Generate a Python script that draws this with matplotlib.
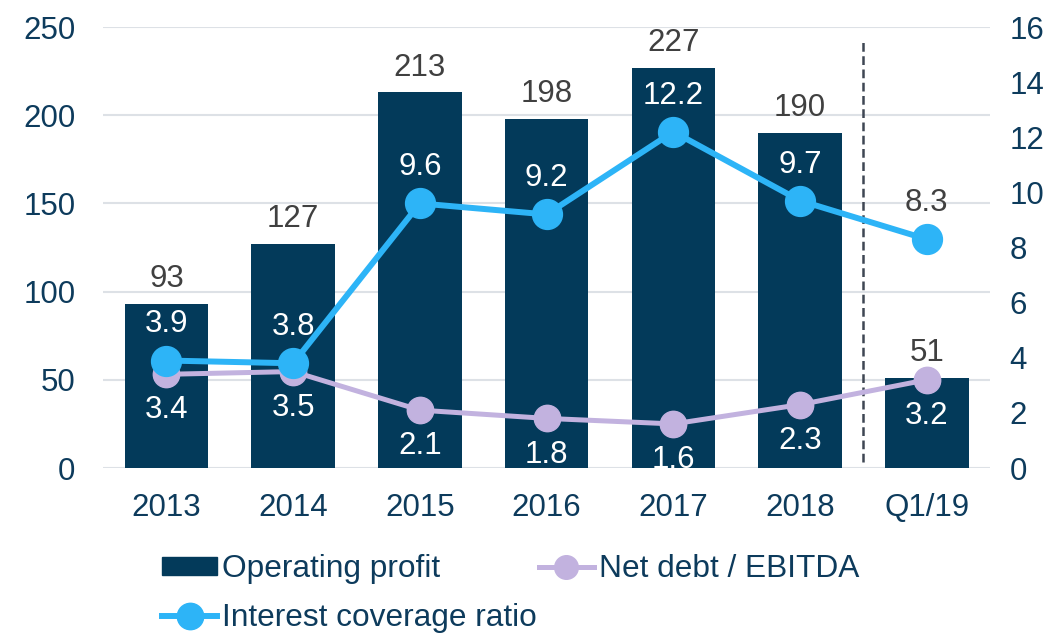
import matplotlib
matplotlib.use("Agg")
import matplotlib.pyplot as plt
from matplotlib.patches import Patch
from matplotlib.lines import Line2D

plt.rcParams['font.family'] = ['Liberation Sans', 'DejaVu Sans']

categories = ["2013", "2014", "2015", "2016", "2017", "2018", "Q1/19"]
operating_profit = [93, 127, 213, 198, 227, 190, 51]
interest_coverage = [3.9, 3.8, 9.6, 9.2, 12.2, 9.7, 8.3]
net_debt_ebitda = [3.4, 3.5, 2.1, 1.8, 1.6, 2.3, 3.2]

navy = "#033a5a"
sky = "#2db4f7"
lilac = "#c2b2df"
txt = "#0d3b5c"
grey = "#404040"
fs = 22.5

fig = plt.figure(figsize=(10.59, 6.34), dpi=100)
ax = fig.add_axes([0.0973, 0.2618, 0.935 - 0.0973, 0.9574 - 0.2618])
ax2 = ax.twinx()

x = list(range(len(categories)))
ax.bar(x, operating_profit, width=0.66, color=navy, zorder=2)
ax.set_ylim(0, 250)
ax.set_xlim(-0.5, len(categories) - 0.5)
ax.set_yticks(range(0, 251, 50))
ax.yaxis.grid(True, color="#dde1e6", linewidth=1.5)
ax.set_axisbelow(True)
ax.set_xticks(x)
ax.set_xticklabels(categories)

# dashed separator between annual and quarterly data
ax.vlines(5.5, 3.4, 241.5, colors="#3e4653", linestyles=(0, (3.5, 1.8)), linewidth=1.8, zorder=3)

for xi, v in zip(x, operating_profit):
    ax.annotate(str(v), (xi, v), xytext=(0, 7), textcoords="offset points",
                ha="center", va="bottom", fontsize=fs, color=grey)

ax2.set_ylim(0, 16)
ax2.set_yticks(range(0, 17, 2))
ax2.plot(x, net_debt_ebitda, color=lilac, linewidth=3.6, marker="o", markersize=19, zorder=3)
ax2.plot(x, interest_coverage, color=sky, linewidth=4.3, marker="o", markersize=21.5, zorder=4)

for xi, v, b in zip(x, interest_coverage, operating_profit):
    inside = v / 16 * 250 < b
    ax2.annotate(f"{v:.1f}", (xi, v), xytext=(0, 26), textcoords="offset points",
                 ha="center", va="center", fontsize=fs, color="white" if inside else grey)
for xi, v in zip(x, net_debt_ebitda):
    ax2.annotate(f"{v:.1f}", (xi, v), xytext=(0, -26), textcoords="offset points",
                 ha="center", va="center", fontsize=fs, color="white")

for a in (ax, ax2):
    for s in a.spines.values():
        s.set_visible(False)
    a.tick_params(length=0, labelsize=fs, labelcolor=txt)
ax.tick_params(axis="y", pad=20)
ax.tick_params(axis="x", pad=18)
ax2.tick_params(axis="y", pad=14)

handles = [
    Patch(color=navy),
    Line2D([], [], color=sky, linewidth=4.3, marker="o", markersize=19),
    Line2D([], [], color=lilac, linewidth=3.6, marker="o", markersize=17),
]
labels = ["Operating profit", "Interest coverage ratio", "Net debt / EBITDA"]
fig.legend(handles, labels, loc="upper left", bbox_to_anchor=(162 / 1059, 1 - 554 / 634),
           ncol=2, frameon=False, fontsize=22.8, labelcolor=txt, handlelength=1.75,
           handleheight=0.5, handletextpad=0.15, columnspacing=0.05, labelspacing=0.6,
           borderpad=0, borderaxespad=0)

fig.savefig("out.png", dpi=100)
